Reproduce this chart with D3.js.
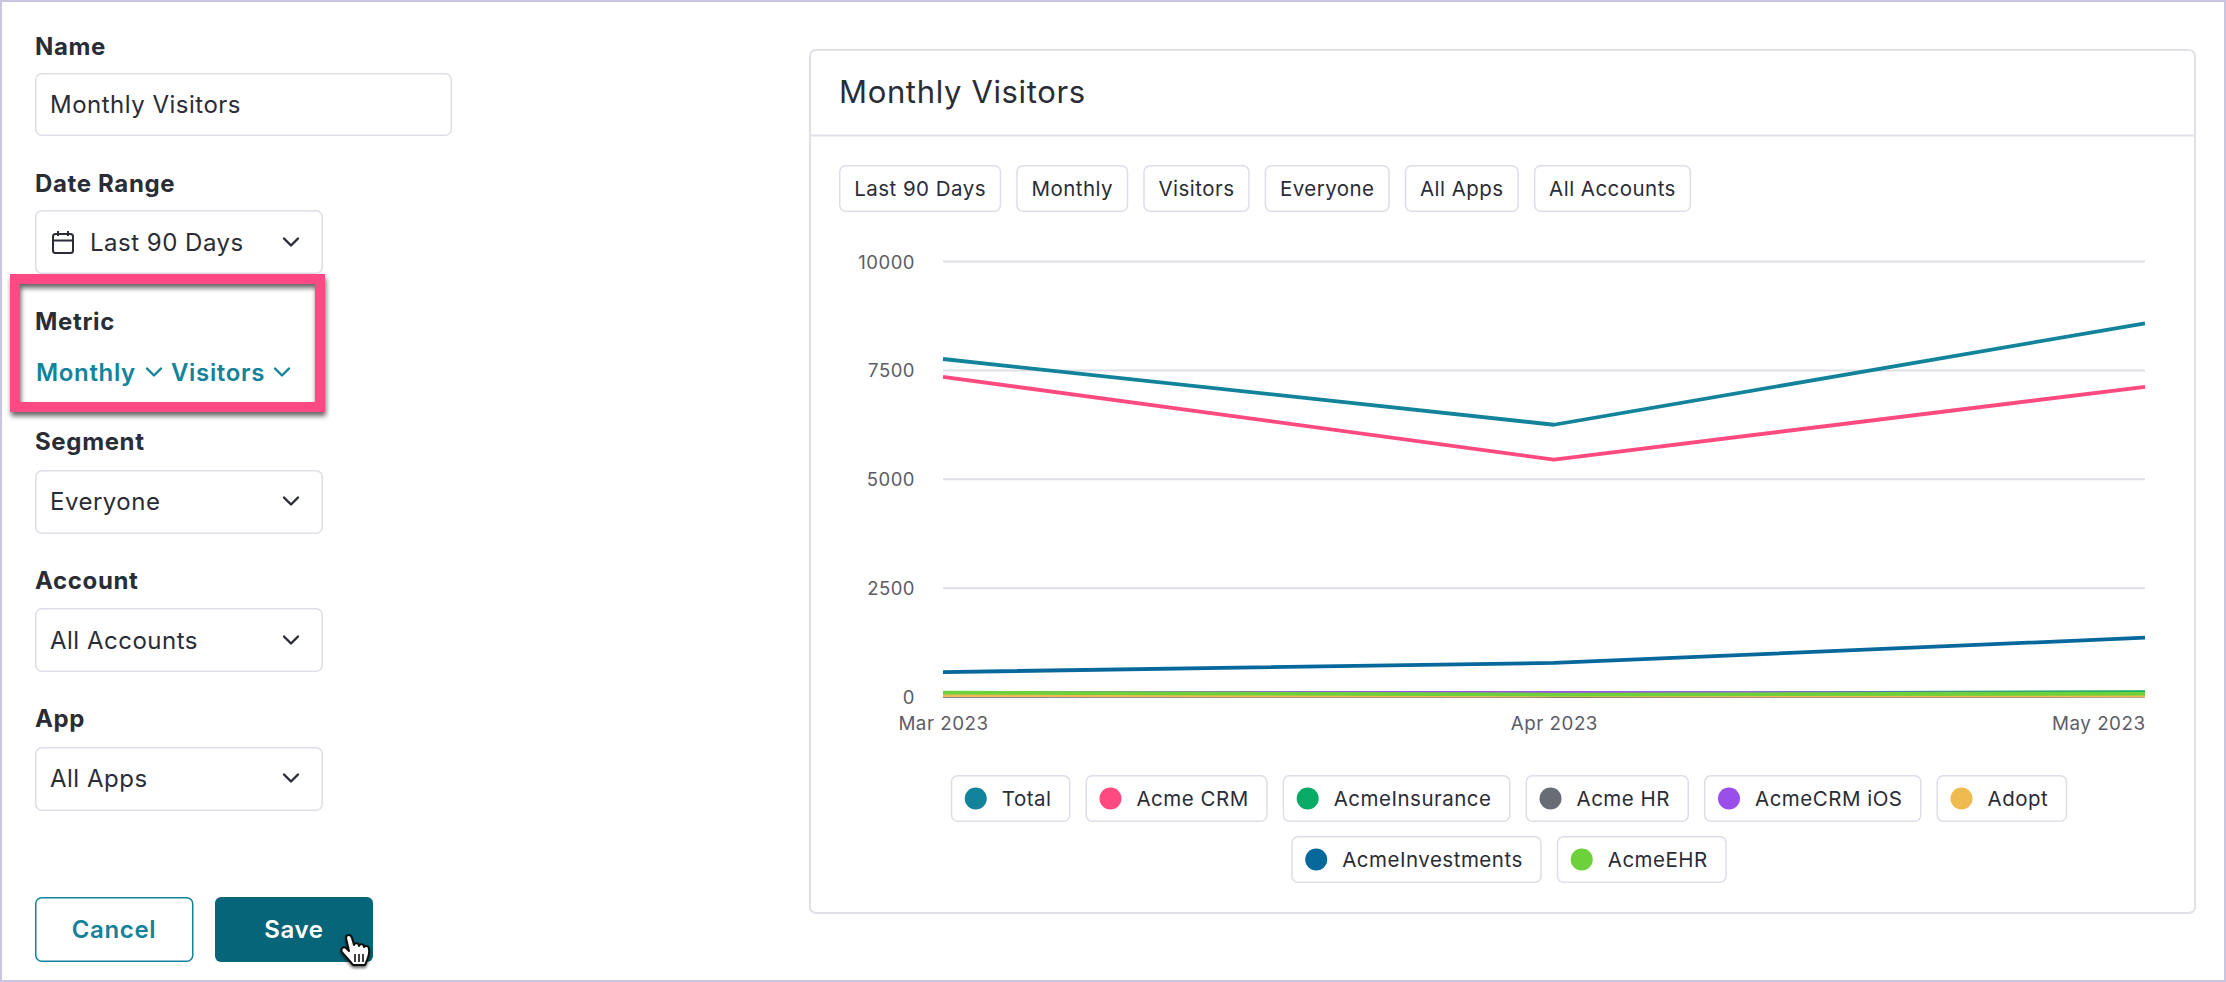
<!DOCTYPE html>
<html><head><meta charset="utf-8">
<script src="https://cdn.jsdelivr.net/npm/d3@7/dist/d3.min.js"></script>
<style>
html,body{margin:0;padding:0;background:#fff;overflow:hidden}
svg{display:block}
text{font-family:Inter,"Noto Sans",sans-serif;letter-spacing:.5px}
</style></head><body>
<svg id="c" width="2226" height="982"></svg>
<script>
// ---- data ----
const months = ["2023-03-01","2023-04-01","2023-05-01"];
const seriesNames = ["Total","Acme CRM","AcmeInsurance","Acme HR","AcmeCRM iOS","Adopt","AcmeInvestments","AcmeEHR"];
const seriesColors = ["#12839a","#ff4a80","#07ab66","#6a6c75","#9a4fea","#efbb50","#07689b","#6cd13b"];
const total = [7750,6240,8570];
const acmeCrm = [7340,5440,7110];
const acmeInsurance = [85,65,100];
const acmeHr = [15,12,18];
const acmeCrmIos = [80,85,60];
const adopt = [30,25,25];
const acmeInvestments = [560,770,1350];
const acmeEhr = [87,45,68];
const seriesValues = [total,acmeCrm,acmeInsurance,acmeHr,acmeCrmIos,adopt,acmeInvestments,acmeEhr];
const yTicks = [0,2500,5000,7500,10000];
const filterChips = ["Last 90 Days","Monthly","Visitors","Everyone","All Apps","All Accounts"];
const legendRows = [[0,1,2,3,4,5],[6,7]];

// ---- style ----
const INK="#2a2c36", LINE="#dedee8", TEAL="#12839a", DARK="#066578", PINK="#ff4a85";
const svg=d3.select("#c");
const FONT="Inter";

// frame
svg.append("rect").attr("x",1).attr("y",1).attr("width",2224).attr("height",980)
  .attr("fill","#fff").attr("stroke","#c9c5e0").attr("stroke-width",2);

const defs=svg.append("defs");
const sh=defs.append("filter").attr("id","sh").attr("x","-10%").attr("y","-10%").attr("width","120%").attr("height","125%");
sh.append("feDropShadow").attr("dx",1).attr("dy",4).attr("stdDeviation",2.5).attr("flood-color","#000").attr("flood-opacity",0.6);
const sh2=defs.append("filter").attr("id","sh2").attr("x","-30%").attr("y","-30%").attr("width","160%").attr("height","160%");
sh2.append("feDropShadow").attr("dx",0).attr("dy",2).attr("stdDeviation",1.5).attr("flood-color","#000").attr("flood-opacity",0.6);

function label(t,x,y){svg.append("text").text(t).attr("x",x).attr("y",y).attr("font-size",24).attr("font-weight",700).attr("fill",INK).style("letter-spacing",".65px");}
function box(x,y,w,h,parent){return (parent||svg).append("rect").attr("x",x+.75).attr("y",y+.75).attr("width",w-1.5).attr("height",h-1.5).attr("rx",6)
  .attr("fill","#fff").attr("stroke",LINE).attr("stroke-width",1.5);}
function chev(x,y,col,w){w=w||7;svg.append("path").attr("d",`M${x-w} ${y-3.5}L${x} ${y+3.5}L${x+w} ${y-3.5}`).attr("fill","none").attr("stroke",col||INK).attr("stroke-width",2.4).attr("stroke-linecap","round").attr("stroke-linejoin","round");}
function val(t,x,y,fs){return svg.append("text").text(t).attr("x",x).attr("y",y).attr("font-size",fs||24).attr("fill",INK);}

// left form
label("Name",35,55);
box(35,73,417,63); val("Monthly Visitors",50,113);
label("Date Range",35,192);
box(35,210,288,64); val("Last 90 Days",90,251); chev(291,242);
// calendar icon
svg.append("rect").attr("x",53).attr("y",234).attr("width",20).attr("height",19).attr("rx",2.5).attr("fill","none").attr("stroke",INK).attr("stroke-width",2);
svg.append("path").attr("d","M53 240.5H73M58 231V236M68 231V236").attr("fill","none").attr("stroke",INK).attr("stroke-width",2);

// highlight box
svg.append("rect").attr("x",15).attr("y",279).attr("width",305).attr("height",128).attr("fill","none")
  .attr("stroke",PINK).attr("stroke-width",10).attr("filter","url(#sh)");
label("Metric",35,330);
const boldTeal=(t,x)=>svg.append("text").text(t).attr("x",x).attr("y",381).attr("font-size",24).attr("font-weight",600).attr("fill",TEAL).style("letter-spacing",".65px");
boldTeal("Monthly",36);
chev(154,372,TEAL);
boldTeal("Visitors",171);
chev(282,372,TEAL);

label("Segment",35,450);
box(35,470,288,64); val("Everyone",50,510); chev(291,501);
label("Account",35,589);
box(35,608,288,64); val("All Accounts",50,649); chev(291,640);
label("App",35,727);
box(35,747,288,64); val("All Apps",50,787); chev(291,778);

// buttons
svg.append("rect").attr("x",35.75).attr("y",897.75).attr("width",157).attr("height",63.5).attr("rx",6).attr("fill","#fff").attr("stroke",TEAL).attr("stroke-width",1.5);
svg.append("text").text("Cancel").attr("x",114).attr("y",938).attr("text-anchor","middle").attr("font-size",24).attr("font-weight",600).attr("fill",TEAL).style("letter-spacing",".65px");
svg.append("rect").attr("x",215).attr("y",897).attr("width",158).attr("height",65).attr("rx",6).attr("fill",DARK);
svg.append("text").text("Save").attr("x",294).attr("y",938).attr("text-anchor","middle").attr("font-size",24).attr("font-weight",600).attr("fill","#fff").style("letter-spacing",".65px");

// card
svg.append("rect").attr("x",810).attr("y",50).attr("width",1385).attr("height",863).attr("rx",6).attr("fill","#fff").attr("stroke","#e0e0ea").attr("stroke-width",2);
svg.append("line").attr("x1",810).attr("x2",2195).attr("y1",135.5).attr("y2",135.5).attr("stroke","#e0e0ea").attr("stroke-width",2);
svg.append("text").text("Monthly Visitors").attr("x",839).attr("y",103).attr("font-size",31).attr("fill",INK).style("letter-spacing",".65px");

// filter chips
const CHIP=20.5;
{let x=839;
 filterChips.forEach(t=>{
  const g=svg.append("g");
  const r=box(x,165,10,47,g);
  const tx=g.append("text").text(t).attr("x",x+15.25).attr("y",196).attr("font-size",CHIP).attr("fill",INK).style("letter-spacing",".46px");
  const w=tx.node().getComputedTextLength()+30.5;
  r.attr("width",w-1.5);
  x+=w+15;
 });}

// chart
const x=d3.scaleTime().domain(d3.extent(months,d=>new Date(d+"T00:00:00"))).range([943,2145]);
const y=d3.scaleLinear().domain([0,10000]).range([696.5,261]);
const yAxis=d3.axisLeft(y).tickValues(yTicks).tickFormat(d3.format("d")).tickSize(0).tickPadding(28);
const gy=svg.append("g").attr("transform","translate(943,0)").call(yAxis);
gy.select(".domain").remove();
gy.selectAll(".tick line").attr("x2",1202).attr("stroke","#dfdfe8").attr("stroke-width",2);
gy.selectAll(".tick text").attr("font-family",FONT).attr("font-size",18.5).attr("fill","#5c5c66").attr("dy","0.38em");
const xAxis=d3.axisBottom(x).tickValues(months.map(d=>new Date(d+"T00:00:00"))).tickFormat(d3.timeFormat("%b %Y")).tickSize(0).tickPadding(0);
const gx=svg.append("g").attr("transform","translate(0,717)").call(xAxis);
gx.select(".domain").remove();
gx.selectAll(".tick text").attr("font-family",FONT).attr("font-size",18.8).attr("fill","#5c5c66").attr("dy","0.71em");
gx.selectAll(".tick:last-of-type text").attr("text-anchor","end");

const line=d3.line().x((d,i)=>x(new Date(months[i]+"T00:00:00"))).y(d=>y(d));
svg.append("g").selectAll("path").data(seriesValues).join("path")
  .attr("d",line).attr("fill","none").attr("stroke",(d,i)=>seriesColors[i]).attr("stroke-width",3.8).attr("stroke-linejoin","round");

// legend
legendRows.forEach((row,ri)=>{
  const top=775+ri*61;
  const gap=15;
  const widths=[];
  const items=row.map(i=>{
    const g=svg.append("g");
    const r=box(0,top,10,47,g);
    const c=g.append("circle").attr("cy",top+23.5).attr("r",11).attr("fill",seriesColors[i]);
    const t=g.append("text").text(seriesNames[i]).attr("y",top+30.5).attr("font-size",CHIP).attr("fill",INK);
    const w=t.node().getComputedTextLength()+51+19;
    widths.push(w);
    return {r,c,t,w};
  });
  const tot=d3.sum(widths)+gap*(row.length-1);
  let cx=1509-tot/2;
  items.forEach(o=>{
    o.r.attr("x",cx+.75).attr("width",o.w-1.5);
    o.c.attr("cx",cx+25);
    o.t.attr("x",cx+51);
    cx+=o.w+gap;
  });
});

// hand cursor
const hand=svg.append("g").attr("filter","url(#sh2)");
hand.append("path").attr("d","M346 938C346 934 351 934 352 938L354 945C355 942 359 943 359 946C360 943 364 944 364 947C365 945 369 946 369 949C370 955 367 960 365 965L353 965C350 961 346 957 342 952C340 949 343 946 346 948L349 951Z")
  .attr("fill","#fff").attr("stroke","#111").attr("stroke-width",2).attr("stroke-linejoin","round");
hand.append("path").attr("d","M355 954V962M359 954V962M363 954V962").attr("stroke","#111").attr("stroke-width",1.6).attr("fill","none");
</script>
</body></html>
